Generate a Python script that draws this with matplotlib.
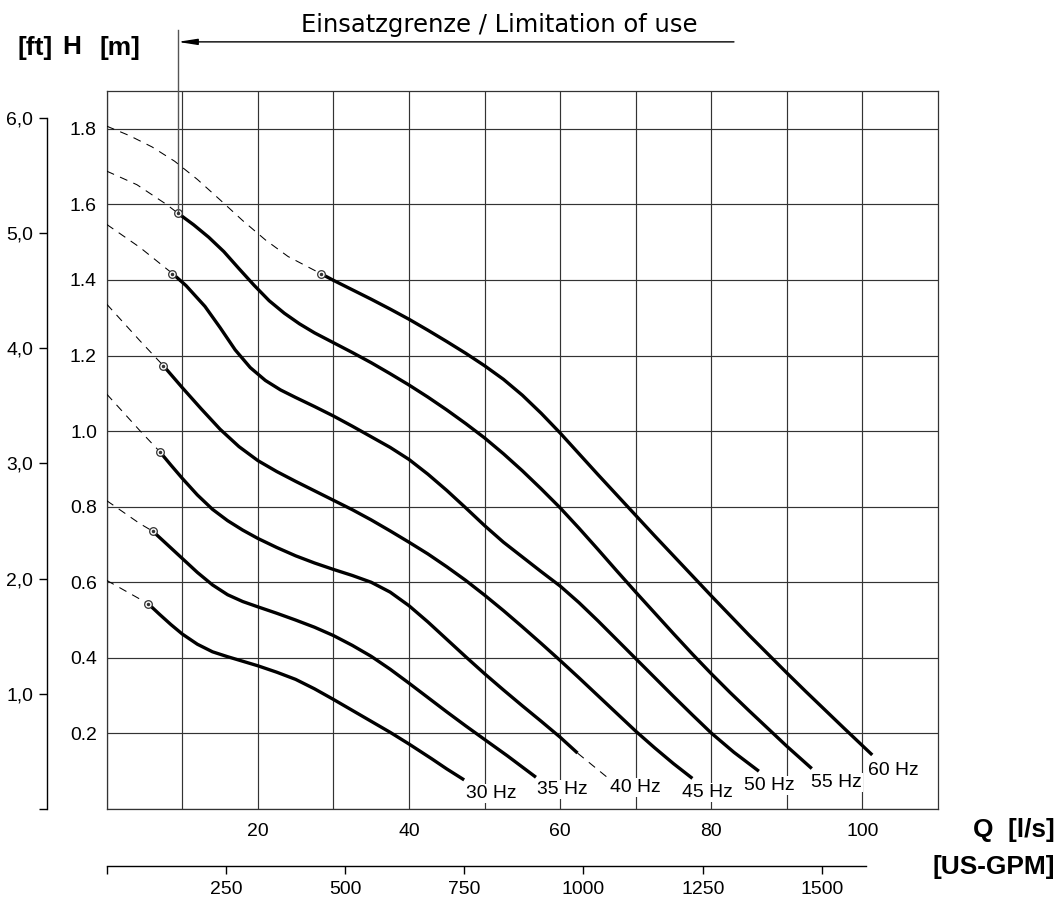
import matplotlib
matplotlib.use('Agg')
import matplotlib.pyplot as plt
from matplotlib import font_manager

# Q [l/s] / H [m] Kennlinien
q30_dash = [0, 5.5]
h30_dash = [0.605, 0.543]
q30 = [5.5, 7, 8.5, 10, 12, 14, 16, 18, 20, 22.5, 25, 27.5, 30, 32.5, 35, 37.5, 40, 43, 45, 47.3]
h30 = [0.543, 0.515, 0.488, 0.463, 0.436, 0.416, 0.403, 0.391, 0.379, 0.362, 0.343, 0.318, 0.29,
       0.261, 0.232, 0.203, 0.172, 0.133, 0.106, 0.077]

q35_dash = [0, 4.4, 6.1]
h35_dash = [0.816, 0.755, 0.735]
q35 = [6.1, 8, 10, 12, 14, 16, 18, 20, 22.5, 25, 27.5, 30, 32.5, 35, 37.5, 40, 42.5, 45, 47.5, 50, 53, 56.8]
h35 = [0.735, 0.7, 0.663, 0.626, 0.593, 0.567, 0.549, 0.535, 0.518, 0.5, 0.481, 0.459, 0.433, 0.404,
       0.37, 0.333, 0.295, 0.257, 0.22, 0.184, 0.141, 0.084]

q40_dash = [0, 4.4, 7]
h40_dash = [1.098, 1.001, 0.946]
q40 = [7, 8.5, 10, 12, 14, 16, 18, 20, 22.5, 25, 27.5, 30, 32.5, 35, 37.5, 40, 42.5, 45, 47.5, 50,
       52.5, 55, 57.5, 60, 62.3]
h40 = [0.946, 0.91, 0.875, 0.831, 0.793, 0.763, 0.738, 0.716, 0.692, 0.67, 0.651, 0.634, 0.618, 0.6,
       0.574, 0.538, 0.495, 0.449, 0.403, 0.358, 0.315, 0.273, 0.232, 0.19, 0.148]
q40_tail = [62.3, 66.4]
h40_tail = [0.148, 0.081]

q45_dash = [0, 4.4, 7.5]
h45_dash = [1.336, 1.239, 1.173]
q45 = [7.5, 10, 12.5, 15, 17.5, 20, 22.5, 25, 27.5, 30, 32.5, 35, 37.5, 40, 42.5, 45, 47.5, 50, 52.5,
       55, 57.5, 60, 62.5, 65, 67.5, 70, 72.5, 75, 77.5]
h45 = [1.173, 1.115, 1.059, 1.005, 0.959, 0.922, 0.893, 0.867, 0.842, 0.817, 0.792, 0.765, 0.736, 0.706,
       0.675, 0.641, 0.605, 0.566, 0.525, 0.482, 0.438, 0.393, 0.347, 0.3, 0.253, 0.206, 0.162, 0.12, 0.081]

q50_dash = [0, 4.4, 8.7]
h50_dash = [1.547, 1.486, 1.417]
q50 = [8.7, 10.5, 13, 15, 17, 19, 21, 23, 25, 27.5, 30, 32.5, 35, 37.5, 40, 42.5, 45, 47.5, 50, 52.5,
       55, 57.5, 60, 62.5, 65, 67.5, 70, 72.5, 75, 77.5, 80, 83, 86.3]
h50 = [1.417, 1.385, 1.33, 1.274, 1.215, 1.168, 1.134, 1.109, 1.089, 1.065, 1.04, 1.013, 0.985, 0.957,
       0.925, 0.886, 0.843, 0.797, 0.75, 0.706, 0.667, 0.628, 0.59, 0.546, 0.498, 0.448, 0.398, 0.348,
       0.298, 0.249, 0.201, 0.15, 0.1]

q55_dash = [0, 4, 7.9, 9.4]
h55_dash = [1.688, 1.652, 1.6, 1.577]
q55 = [9.4, 11.5, 13.5, 15.5, 17.5, 19.5, 21.5, 23.5, 25.5, 27.5, 30, 32.5, 35, 37.5, 40, 42.5, 45,
       47.5, 50, 52.5, 55, 57.5, 60, 62.5, 65, 67.5, 70, 72.5, 75, 77.5, 80, 82.5, 85, 87.5, 90, 93.3]
h55 = [1.577, 1.546, 1.513, 1.475, 1.43, 1.386, 1.345, 1.312, 1.284, 1.26, 1.234, 1.208, 1.181, 1.152,
       1.122, 1.09, 1.056, 1.02, 0.982, 0.94, 0.895, 0.847, 0.797, 0.743, 0.687, 0.63, 0.574, 0.519,
       0.464, 0.41, 0.358, 0.308, 0.26, 0.213, 0.166, 0.107]

q60_dash = [0, 3, 6, 9, 12, 15, 18, 21, 24, 28.3]
h60_dash = [1.807, 1.782, 1.752, 1.714, 1.666, 1.612, 1.557, 1.506, 1.462, 1.417]
q60 = [28.3, 30, 32.5, 35, 37.5, 40, 42.5, 45, 47.5, 50, 52.5, 55, 57.5, 60, 62.5, 65, 67.5, 70, 72.5,
       75, 77.5, 80, 82.5, 85, 87.5, 90, 92.5, 95, 97.5, 101.3]
h60 = [1.417, 1.399, 1.374, 1.349, 1.323, 1.296, 1.267, 1.237, 1.206, 1.173, 1.137, 1.095, 1.047, 0.995,
       0.94, 0.885, 0.831, 0.777, 0.723, 0.67, 0.617, 0.564, 0.512, 0.46, 0.41, 0.36, 0.311, 0.263,
       0.215, 0.143]

freq_labels = ['30 Hz', '35 Hz', '40 Hz', '45 Hz', '50 Hz', '55 Hz', '60 Hz']

x_ticks = [0, 10, 20, 30, 40, 50, 60, 70, 80, 90, 100]
x_labels = ['', '', '20', '', '40', '', '60', '', '80', '', '100']
y_ticks = [0, 0.2, 0.4, 0.6, 0.8, 1.0, 1.2, 1.4, 1.6, 1.8]
y_labels = ['', '0.2', '0.4', '0.6', '0.8', '1.0', '1.2', '1.4', '1.6', '1.8']
ft_ticks = [0, 1, 2, 3, 4, 5, 6]
ft_labels = ['', '1,0', '2,0', '3,0', '4,0', '5,0', '6,0']
gpm_ticks = [0, 250, 500, 750, 1000, 1250, 1500]
gpm_labels = ['', '250', '500', '750', '1000', '1250', '1500']

M_PER_FT = 0.3048
GPM_PER_LS = 15.850

# schrift: schmale Arial-Variante falls vorhanden
available = {f.name for f in font_manager.fontManager.ttflist}
narrow = 'Liberation Sans Narrow' in available
FONT = 'Liberation Sans Narrow' if narrow else 'Liberation Sans'
k = 1.0 if narrow else 0.9
FS = 15.5 * k
FS_BOLD = 21 * k
plt.rcParams['font.family'] = [FONT, 'DejaVu Sans']
plt.rcParams['lines.scale_dashes'] = False

W, H = 1063, 901
fig = plt.figure(figsize=(W / 100, H / 100), dpi=100)
ax = fig.add_axes([106.7 / W, 1 - 809 / H, (938 - 106.7) / W, (809 - 91) / H])
ax.set_xlim(0, 110)
ax.set_ylim(0, 1.9)

grid_c = '#333333'
ax.set_xticks(x_ticks, labels=x_labels)
ax.set_yticks(y_ticks, labels=y_labels)
ax.tick_params(length=0, labelsize=FS)
ax.tick_params(axis='x', pad=10)
ax.tick_params(axis='y', pad=7)
ax.grid(True, color=grid_c, lw=0.85)
ax.set_axisbelow(True)
for sp in ax.spines.values():
    sp.set_color(grid_c)
    sp.set_linewidth(0.9)

curves = [
    (q30_dash, h30_dash, q30, h30),
    (q35_dash, h35_dash, q35, h35),
    (q40_dash, h40_dash, q40, h40),
    (q45_dash, h45_dash, q45, h45),
    (q50_dash, h50_dash, q50, h50),
    (q55_dash, h55_dash, q55, h55),
    (q60_dash, h60_dash, q60, h60),
]
label_offsets = [(1.4, -10), (0.7, -8.6), (1.4, -6.5), (-7.2, -10), (-10.8, -10), (-0.7, -10), (-2.9, -11.5)]
dash = (0, (5.8, 4.7))

for (qd, hd, qs, hs), lab, off in zip(curves, freq_labels, label_offsets):
    ax.plot(qd, hd, color='black', lw=0.75, ls=dash, zorder=3)
    ax.plot(qs, hs, color='black', lw=2.4, solid_capstyle='butt', solid_joinstyle='round', zorder=4)
    ax.plot(qs[0], hs[0], 'o', ms=5.5, mfc='white', mec='#333333', mew=0.9, zorder=5)
    ax.plot(qs[0], hs[0], 'o', ms=1.5, color='#333333', zorder=6)
    end_q, end_h = qs[-1], hs[-1]
    if lab == '40 Hz':
        ax.plot(q40_tail, h40_tail, color='black', lw=0.75, ls=dash, zorder=3)
        end_q, end_h = q40_tail[-1], h40_tail[-1]
    ax.annotate(lab, (end_q, end_h), xytext=off, textcoords='offset points',
                ha='left', va='center', fontsize=FS, zorder=7,
                bbox=dict(boxstyle='square,pad=0.05', fc='white', ec='none'))

# Einsatzgrenze
lim_q = q55[0]
ax.plot([lim_q, lim_q], [h55[0], 2.061], color='#555555', lw=1, clip_on=False, zorder=5)
ax.annotate('', xy=(lim_q, 2.03), xytext=(83, 2.03), annotation_clip=False,
            arrowprops=dict(arrowstyle='-|>,head_length=1.15,head_width=0.18', mutation_scale=10,
                            color='black', lw=1, shrinkA=0, shrinkB=0))
fig.text(499 / W, 1 - 31.7 / H, 'Einsatzgrenze / Limitation of use', family='DejaVu Sans',
         fontsize=17.5, ha='center', va='baseline')

# zweite Achsen: ft und US-GPM
ax_ft = ax.secondary_yaxis(-(106.7 - 46.7) / (938 - 106.7),
                           functions=(lambda m: m / M_PER_FT, lambda f: f * M_PER_FT))
ax_ft.set_yticks(ft_ticks, labels=ft_labels)
ax_ft.tick_params(direction='out', length=5.8, width=1, pad=4, labelsize=FS)
ax_ft.spines['left'].set_bounds(0, 6)
ax_ft.spines['left'].set_linewidth(1)

ax_gpm = ax.secondary_xaxis(-(866 - 809) / (809 - 91),
                            functions=(lambda q: q * GPM_PER_LS, lambda g: g / GPM_PER_LS))
ax_gpm.set_xticks(gpm_ticks, labels=gpm_labels)
ax_gpm.tick_params(direction='out', length=5.8, width=1, pad=5, labelsize=FS)
ax_gpm.spines['bottom'].set_bounds(0, 1593)
ax_gpm.spines['bottom'].set_linewidth(1)

# achsentitel
fig.text(35 / W, 1 - 47.5 / H, '[ft]', fontsize=FS_BOLD, weight='bold', ha='center', va='center')
fig.text(72 / W, 1 - 47.5 / H, 'H', fontsize=FS_BOLD, weight='bold', ha='center', va='center')
fig.text(120 / W, 1 - 47.5 / H, '[m]', fontsize=FS_BOLD, weight='bold', ha='center', va='center')
fig.text(1055 / W, 1 - 830 / H, 'Q  [l/s]', fontsize=FS_BOLD, weight='bold', ha='right', va='center')
fig.text(1055 / W, 1 - 867 / H, '[US-GPM]', fontsize=FS_BOLD, weight='bold', ha='right', va='center')

fig.savefig('out.png', dpi=100)
